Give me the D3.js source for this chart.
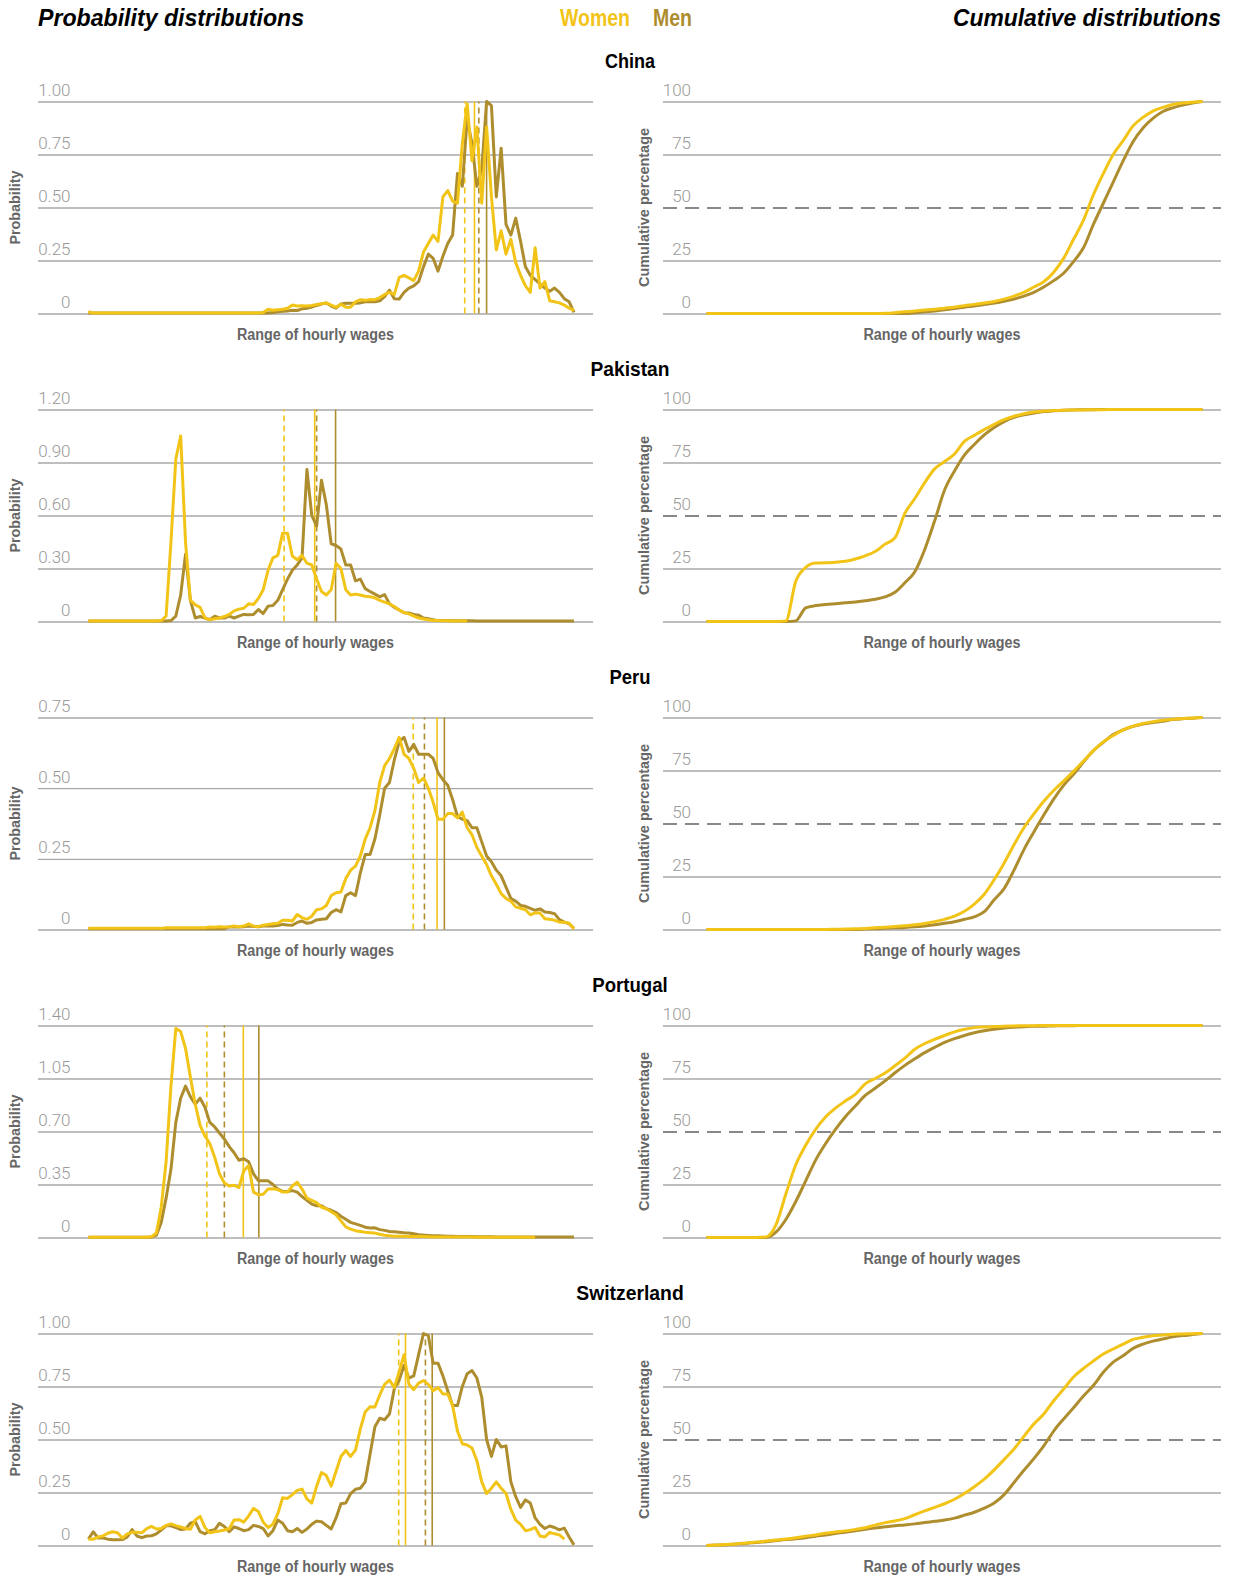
<!DOCTYPE html>
<html><head><meta charset="utf-8">
<script src="https://cdn.jsdelivr.net/npm/d3@7"></script>
<style>
body{margin:0;background:#fff;}
svg{display:block;font-family:"Liberation Sans",Arial,"DejaVu Sans",sans-serif;}
</style></head><body>
<svg id="chart" width="1239" height="1576"></svg>
<script>
// ---------------- DATA ----------------
const countries = ["China", "Pakistan", "Peru", "Portugal", "Switzerland"];
const seriesNames = ["Women", "Men"];
const cumTicks = [0, 25, 50, 75, 100];

const chinaProbTicks = [0, 0.25, 0.5, 0.75, 1];
const pakistanProbTicks = [0, 0.3, 0.6, 0.9, 1.2];
const peruProbTicks = [0, 0.25, 0.5, 0.75];
const portugalProbTicks = [0, 0.35, 0.7, 1.05, 1.4];
const switzerlandProbTicks = [0, 0.25, 0.5, 0.75, 1];

// reference lines (bin position): women dashed, women solid, men dashed, men solid
const chinaRefLines = [77.5, 79.5, 80.4, 82.0];
const pakistanRefLines = [40.3, 46.6, 47.0, 50.9];
const peruRefLines = [66.9, 71.8, 69.2, 73.3];
const portugalRefLines = [24.4, 31.9, 28.0, 35.1];
const switzerlandRefLines = [63.9, 65.3, 69.4, 70.8];

// probability distributions (one value per wage bin, 0..100)
const chinaWomenProb = [
0.008,0.002,0.002,0.002,0.002,0.002,0.002,0.002,0.002,0.002,
0.002,0.002,0.002,0.002,0.002,0.002,0.002,0.002,0.002,0.002,
0.002,0.002,0.002,0.002,0.002,0.002,0.002,0.002,0.002,0.002,
0.002,0.002,0.002,0.002,0.002,0.002,0.005,0.02,0.015,0.018,
0.02,0.025,0.04,0.035,0.036,0.035,0.038,0.042,0.046,0.05,
0.04,0.03,0.044,0.03,0.03,0.055,0.065,0.062,0.066,0.065,
0.075,0.09,0.1,0.09,0.17,0.18,0.168,0.155,0.2,0.29,
0.33,0.37,0.34,0.55,0.58,0.53,0.52,0.8,0.99,0.72,
0.88,0.52,0.88,0.55,0.3,0.39,0.28,0.35,0.24,0.18,
0.13,0.1,0.31,0.12,0.15,0.06,0.055,0.05,0.04,0.025,
0.015];
const chinaMenProb = [
0.002,0.002,0.002,0.002,0.002,0.002,0.002,0.002,0.002,0.002,
0.002,0.002,0.002,0.002,0.002,0.002,0.002,0.002,0.002,0.002,
0.002,0.002,0.002,0.002,0.002,0.002,0.002,0.002,0.002,0.002,
0.002,0.002,0.002,0.002,0.002,0.002,0.002,0.002,0.005,0.008,
0.01,0.012,0.015,0.014,0.022,0.025,0.03,0.038,0.045,0.05,
0.035,0.025,0.045,0.048,0.048,0.048,0.05,0.055,0.055,0.055,
0.06,0.08,0.11,0.07,0.068,0.1,0.12,0.13,0.15,0.22,
0.28,0.26,0.2,0.27,0.33,0.37,0.66,0.6,0.92,0.8,
0.6,0.68,1.0,0.98,0.55,0.78,0.42,0.37,0.45,0.34,
0.22,0.18,0.16,0.14,0.12,0.105,0.12,0.1,0.07,0.055,
0.005];
const pakistanWomenProb = [
0.003,0.003,0.003,0.003,0.003,0.003,0.003,0.003,0.003,0.003,
0.003,0.003,0.003,0.003,0.003,0.005,0.03,0.45,0.92,1.05,
0.45,0.12,0.095,0.08,0.02,0.01,0.015,0.02,0.028,0.04,
0.06,0.07,0.075,0.1,0.096,0.13,0.18,0.29,0.36,0.374,
0.5,0.5,0.37,0.35,0.374,0.33,0.32,0.24,0.17,0.15,
0.18,0.33,0.3,0.18,0.15,0.155,0.15,0.143,0.14,0.134,
0.12,0.11,0.1,0.085,0.065,0.05,0.043,0.03,0.02,0.014,
0.01,0.006,0.005,0.004,0.004,0.003,0.003,0.003,0.003];
const pakistanMenProb = [
0.003,0.003,0.003,0.003,0.003,0.003,0.003,0.003,0.003,0.003,
0.003,0.003,0.003,0.003,0.003,0.003,0.003,0.005,0.03,0.15,
0.38,0.12,0.02,0.028,0.02,0.01,0.03,0.02,0.02,0.03,
0.02,0.03,0.04,0.038,0.04,0.068,0.045,0.087,0.09,0.12,
0.18,0.24,0.29,0.32,0.36,0.86,0.6,0.54,0.8,0.66,
0.44,0.43,0.41,0.32,0.32,0.23,0.24,0.186,0.17,0.155,
0.14,0.152,0.1,0.08,0.065,0.05,0.048,0.04,0.036,0.02,
0.015,0.01,0.005,0.005,0.005,0.004,0.004,0.004,0.004,0.004,
0.003,0.003,0.003,0.003,0.003,0.003,0.003,0.003,0.003,0.003,
0.003,0.003,0.003,0.003,0.003,0.003,0.003,0.003,0.003,0.003,
0.003];
const peruWomenProb = [
0.004,0.004,0.004,0.004,0.004,0.004,0.004,0.004,0.004,0.004,
0.004,0.004,0.004,0.004,0.004,0.004,0.006,0.006,0.006,0.006,
0.006,0.006,0.006,0.006,0.006,0.009,0.008,0.01,0.009,0.01,
0.012,0.01,0.012,0.02,0.012,0.01,0.015,0.018,0.02,0.022,
0.033,0.033,0.03,0.053,0.042,0.036,0.047,0.07,0.073,0.085,
0.12,0.13,0.133,0.18,0.21,0.224,0.26,0.32,0.36,0.42,
0.52,0.58,0.605,0.64,0.68,0.62,0.605,0.57,0.52,0.536,
0.5,0.45,0.39,0.39,0.41,0.41,0.395,0.415,0.36,0.335,
0.29,0.26,0.23,0.19,0.16,0.127,0.11,0.1,0.08,0.075,
0.07,0.052,0.059,0.058,0.038,0.036,0.033,0.026,0.026,0.022,
0.002];
const peruMenProb = [
0.003,0.003,0.003,0.003,0.003,0.003,0.003,0.003,0.003,0.003,
0.003,0.003,0.003,0.003,0.003,0.003,0.003,0.003,0.003,0.003,
0.003,0.003,0.003,0.003,0.003,0.003,0.003,0.003,0.003,0.009,
0.01,0.009,0.01,0.012,0.011,0.01,0.012,0.012,0.012,0.014,
0.018,0.016,0.015,0.025,0.03,0.022,0.025,0.034,0.036,0.038,
0.06,0.07,0.062,0.12,0.13,0.12,0.2,0.265,0.265,0.32,
0.406,0.5,0.52,0.6,0.665,0.68,0.63,0.655,0.62,0.62,
0.62,0.605,0.555,0.53,0.51,0.46,0.4,0.39,0.385,0.36,
0.36,0.31,0.26,0.24,0.21,0.19,0.15,0.11,0.1,0.085,
0.082,0.075,0.068,0.073,0.062,0.06,0.056,0.035,0.026,0.02,
0.004];
const portugalWomenProb = [
0.002,0.002,0.002,0.002,0.002,0.002,0.002,0.002,0.002,0.002,
0.002,0.002,0.002,0.005,0.03,0.2,0.5,1.0,1.38,1.36,
1.25,1.06,0.88,0.74,0.67,0.62,0.53,0.42,0.36,0.34,
0.345,0.33,0.44,0.475,0.3,0.282,0.286,0.32,0.322,0.316,
0.3,0.3,0.34,0.365,0.32,0.26,0.245,0.23,0.2,0.19,
0.17,0.15,0.11,0.07,0.055,0.045,0.04,0.035,0.032,0.029,
0.022,0.015,0.012,0.009,0.008,0.008,0.007,0.007,0.006,0.006,
0.005,0.004,0.004,0.004,0.003,0.003,0.003,0.003,0.003,0.003,
0.002,0.002,0.002,0.002,0.002,0.002,0.002,0.002,0.002,0.002,
0.002,0.002,0.002];
const portugalMenProb = [
0.002,0.002,0.002,0.002,0.002,0.002,0.002,0.002,0.002,0.002,
0.002,0.002,0.002,0.002,0.015,0.1,0.26,0.45,0.76,0.92,
1.0,0.93,0.88,0.92,0.86,0.76,0.73,0.69,0.65,0.6,
0.56,0.51,0.52,0.5,0.42,0.375,0.374,0.374,0.35,0.32,
0.304,0.304,0.31,0.3,0.27,0.245,0.22,0.21,0.21,0.19,
0.18,0.165,0.14,0.12,0.1,0.09,0.08,0.068,0.063,0.064,
0.052,0.047,0.04,0.038,0.035,0.032,0.03,0.025,0.019,0.016,
0.014,0.012,0.011,0.01,0.009,0.008,0.007,0.007,0.006,0.006,
0.005,0.005,0.005,0.005,0.004,0.004,0.004,0.004,0.004,0.004,
0.003,0.003,0.003,0.003,0.003,0.003,0.003,0.003,0.003,0.003,
0.003];
const switzerlandWomenProb = [
0.03,0.03,0.04,0.045,0.058,0.065,0.06,0.035,0.055,0.062,
0.062,0.06,0.08,0.09,0.078,0.08,0.095,0.102,0.094,0.087,
0.08,0.077,0.12,0.137,0.085,0.06,0.065,0.068,0.073,0.079,
0.12,0.122,0.11,0.14,0.175,0.16,0.11,0.085,0.1,0.15,
0.225,0.222,0.24,0.26,0.266,0.22,0.2,0.28,0.344,0.33,
0.28,0.35,0.42,0.448,0.42,0.45,0.55,0.63,0.655,0.653,
0.71,0.76,0.78,0.745,0.82,0.9,0.76,0.735,0.766,0.778,
0.76,0.73,0.745,0.715,0.715,0.66,0.54,0.48,0.474,0.46,
0.4,0.3,0.245,0.27,0.3,0.27,0.245,0.17,0.12,0.1,
0.07,0.075,0.085,0.045,0.04,0.062,0.055,0.05,0.03];
const switzerlandMenProb = [
0.03,0.065,0.035,0.035,0.03,0.027,0.027,0.028,0.04,0.075,
0.045,0.037,0.045,0.046,0.055,0.073,0.093,0.093,0.085,0.075,
0.078,0.105,0.113,0.065,0.055,0.07,0.074,0.105,0.09,0.065,
0.088,0.08,0.07,0.075,0.095,0.09,0.08,0.045,0.07,0.12,
0.105,0.07,0.065,0.08,0.062,0.078,0.1,0.115,0.112,0.095,
0.078,0.13,0.197,0.2,0.245,0.265,0.27,0.3,0.43,0.56,
0.6,0.593,0.62,0.74,0.78,0.85,0.79,0.8,0.9,1.0,
0.99,0.86,0.86,0.8,0.73,0.66,0.66,0.75,0.81,0.825,
0.79,0.7,0.5,0.42,0.5,0.465,0.47,0.3,0.23,0.18,
0.215,0.2,0.13,0.1,0.08,0.092,0.085,0.074,0.082,0.04,
0.003];

// cumulative distributions (%), every second wage bin 0,2,...,100
const chinaWomenCum = [
0,0,0,0,0,0,0,0,0,0,
0,0,0,0,0,0,0,0,0.1,0.4,
0.8,1.2,1.6,2.0,2.5,3.0,3.7,4.3,5.0,5.7,
6.8,8.2,10,12.5,15,19.5,26,35,44,56,
66,75,81.5,88.5,92.5,95.5,97.2,98.6,99.3,99.7,
100];
const chinaMenCum = [
0,0,0,0,0,0,0,0,0,0,
0,0,0,0,0,0,0,0,0,0,
0,0.4,0.8,1.2,1.8,2.3,3.0,3.5,4.2,4.9,
5.8,6.8,8.2,10,12.5,15.5,19,24.5,31,42,
52,62,72,81,87.5,92,95.3,97,98.3,99.3,
100];
const pakistanWomenCum = [
0,0,0,0,0,0,0,0,0.3,19,
25.5,27.6,27.7,28,28.4,29.5,31,33,36.5,39.5,
51,58,65.5,72,75.5,79,85,87.8,90.5,93,
95.2,96.8,98,98.8,99.3,99.5,99.7,99.8,99.8,99.9,
99.9,100,100,100,100,100,100,100,100,100,
100];
const pakistanMenCum = [
0,0,0,0,0,0,0,0,0,0.3,
6.4,7.5,8,8.4,8.8,9.2,9.8,10.5,11.6,13.8,
18.3,23.5,34,47.5,62,71,78.5,83.5,88,91.5,
94.3,96.3,97.5,98.3,99,99.4,99.7,99.8,99.9,99.9,
100,100,100,100,100,100,100,100,100,100,
100];
const peruWomenCum = [
0,0,0,0,0,0,0,0,0,0,
0,0,0,0.1,0.2,0.3,0.5,0.8,1.1,1.4,
1.8,2.2,2.8,3.7,4.8,6.3,8.6,12,16.6,23.5,
31.3,40,48,54.5,60.5,65.6,70,74.6,79.5,84.4,
88.5,91.5,94.2,95.9,97.2,98,98.7,99.2,99.5,99.8,
100];
const peruMenCum = [
0,0,0,0,0,0,0,0,0,0,
0,0,0,0,0,0,0.2,0.4,0.6,0.8,
1.0,1.3,1.7,2.2,2.9,3.7,4.8,6.0,8.4,14,
19.3,28,37.7,46,54,61.5,68,73.2,79,84.3,
88.3,92,94.1,95.8,96.9,97.6,98.2,99,99.4,99.7,
100];
const portugalWomenCum = [
0,0,0,0,0,0,0.3,6,20.5,34.3,
43.5,51,56.8,61,64.4,67.5,72.5,75,77.6,81,
84.6,88.8,91.5,93.5,95.3,97,98.2,99,99.3,99.5,
99.7,99.8,99.9,99.9,100,100,100,100,100,100,
100,100,100,100,100,100,100,100,100,100,
100];
const portugalMenCum = [
0,0,0,0,0,0,0,2.5,8.5,17,
26.7,36.5,44.2,51,57,62,67,70.4,73.9,77.7,
81.2,84.3,87.2,89.7,92,93.8,95.3,96.6,97.5,98.2,
98.8,99.2,99.4,99.6,99.7,99.8,99.9,99.9,100,100,
100,100,100,100,100,100,100,100,100,100,
100];
const switzerlandWomenCum = [
0,0.2,0.5,0.75,1.2,1.6,2.1,2.6,3.1,3.7,
4.4,5,5.8,6.4,6.9,7.6,8.4,9.6,10.8,11.6,
12.7,14.5,16.3,18,19.7,21.8,24.5,27.7,31.3,35.7,
40.5,45.5,51.5,57.3,62,68.3,73.8,79.5,83.5,87,
90.3,92.7,95,97.2,98.2,98.9,99.3,99.7,99.8,99.9,
100];
const switzerlandMenCum = [
0,0.2,0.4,0.7,1.0,1.4,1.8,2.3,2.8,3.2,
3.7,4.4,5,5.7,6.3,7,7.7,8.3,8.8,9.3,
9.7,10.2,10.8,11.4,12,12.9,14.3,15.7,17.6,20,
24,29.7,35.5,41,47,54,59.7,65,70.5,75.5,
81.7,86.5,89.5,93,95,96.4,97.4,98.4,99,99.5,
100];

// -------------- assemble --------------
const panels = [
  {name: countries[0], ticks: chinaProbTicks, ref: chinaRefLines, wp: chinaWomenProb, mp: chinaMenProb, wc: chinaWomenCum, mc: chinaMenCum},
  {name: countries[1], ticks: pakistanProbTicks, ref: pakistanRefLines, wp: pakistanWomenProb, mp: pakistanMenProb, wc: pakistanWomenCum, mc: pakistanMenCum},
  {name: countries[2], ticks: peruProbTicks, ref: peruRefLines, wp: peruWomenProb, mp: peruMenProb, wc: peruWomenCum, mc: peruMenCum},
  {name: countries[3], ticks: portugalProbTicks, ref: portugalRefLines, wp: portugalWomenProb, mp: portugalMenProb, wc: portugalWomenCum, mc: portugalMenCum},
  {name: countries[4], ticks: switzerlandProbTicks, ref: switzerlandRefLines, wp: switzerlandWomenProb, mp: switzerlandMenProb, wc: switzerlandWomenCum, mc: switzerlandMenCum}
];

// -------------- drawing --------------
const WOMEN = "#F2C417", MEN = "#AE8D2F";
const GRID = "#a8a8a8", TICK = "#999999", TITLE = "#666666";
const svg = d3.select("#chart");

const L = {g0: 38, g1: 593, d0: 88.4, d1: 574, lab: 70.5, ytitle: 15};
const R = {g0: 663, g1: 1221, d0: 706.5, d1: 1202.5, lab: 691, ytitle: 644};
const rowTop = r => 101.5 + r * 308;
const plotH = 212;
// condensed look: text widths squeezed to match the narrow typeface
const titleWidth = {China: 50, Pakistan: 79, Peru: 41, Portugal: 75.5, Switzerland: 107.5};

function squeezed(sel, w) {
  return sel.attr("textLength", w).attr("lengthAdjust", "spacingAndGlyphs");
}

// header
squeezed(svg.append("text").attr("x", 38).attr("y", 26).attr("font-size", 24).attr("font-weight", "bold")
  .attr("font-style", "italic").attr("fill", "#000").text("Probability distributions"), 266);
squeezed(svg.append("text").attr("x", 953).attr("y", 26).attr("font-size", 24).attr("font-weight", "bold")
  .attr("font-style", "italic").attr("fill", "#000").text("Cumulative distributions"), 268);
squeezed(svg.append("text").attr("x", 560).attr("y", 26).attr("font-size", 23).attr("font-weight", "bold")
  .attr("fill", WOMEN).text(seriesNames[0]), 70);
squeezed(svg.append("text").attr("x", 653).attr("y", 26).attr("font-size", 23).attr("font-weight", "bold")
  .attr("fill", MEN).text(seriesNames[1]), 39);

const fmtProb = d => d === 0 ? "0" : d3.format(".2f")(d);

function drawGrid(g, P, y, ticks, fmt, dashed50) {
  const axis = d3.axisRight(y).tickValues(ticks).tickSize(P.g1 - P.g0).tickFormat(fmt);
  const ag = g.append("g").attr("transform", `translate(${P.g0},0)`).call(axis);
  ag.select(".domain").remove();
  ag.selectAll(".tick line").attr("stroke", GRID).attr("stroke-width", 1.4);
  ag.selectAll(".tick text").attr("x", P.lab - P.g0).attr("dy", -6).attr("text-anchor", "end")
    .attr("fill", TICK).attr("font-size", 17).attr("font-weight", 300)
    .attr("font-family", "Roboto, 'Liberation Sans', sans-serif");
  if (dashed50) {
    ag.selectAll(".tick").filter(d => d === 50).select("line")
      .attr("stroke", "#888").attr("stroke-width", 2).attr("stroke-dasharray", "14,8");
  }
}

function titles(g, P, top, ytext, ylen) {
  squeezed(g.append("text").attr("transform", `translate(${P.ytitle},${top + plotH / 2}) rotate(-90)`)
    .attr("text-anchor", "middle").attr("dy", "0.35em").attr("font-size", 15).attr("font-weight", "bold")
    .attr("fill", TITLE).text(ytext), ylen);
  squeezed(g.append("text").attr("x", (P.g0 + P.g1) / 2).attr("y", top + plotH + 26).attr("text-anchor", "middle")
    .attr("font-size", 16).attr("font-weight", "bold").attr("fill", TITLE).text("Range of hourly wages"), 157);
}

panels.forEach((p, r) => {
  const top = rowTop(r), bot = top + plotH;
  const g = svg.append("g");
  // country title
  squeezed(g.append("text").attr("x", 630).attr("y", top - 34).attr("text-anchor", "middle").attr("font-size", 21)
    .attr("font-weight", "bold").attr("fill", "#000").text(p.name), titleWidth[p.name]);

  // ---- probability panel ----
  const maxT = p.ticks[p.ticks.length - 1];
  const yP = d3.scaleLinear().domain([0, maxT]).range([bot, top]);
  const xP = d3.scaleLinear().domain([0, 100]).range([L.d0, L.d1]);
  drawGrid(g, L, yP, p.ticks, fmtProb, false);
  titles(g, L, top, "Probability", 74);

  const refStyle = [[WOMEN, "6,4"], [WOMEN, null], [MEN, "6,4"], [MEN, null]];
  p.ref.forEach((v, k) => {
    g.append("line").attr("x1", xP(v)).attr("x2", xP(v)).attr("y1", yP(0)).attr("y2", yP(maxT))
      .attr("stroke", refStyle[k][0]).attr("stroke-width", 1.6)
      .attr("stroke-dasharray", refStyle[k][1]);
  });
  const lineP = d3.line().x((d, i) => xP(i)).y(d => yP(d));
  g.append("path").datum(p.mp).attr("d", lineP).attr("fill", "none").attr("stroke", MEN)
    .attr("stroke-width", 3).attr("stroke-linejoin", "round");
  g.append("path").datum(p.wp).attr("d", lineP).attr("fill", "none").attr("stroke", WOMEN)
    .attr("stroke-width", 3).attr("stroke-linejoin", "round");

  // ---- cumulative panel ----
  const yC = d3.scaleLinear().domain([0, 100]).range([bot, top]);
  const xC = d3.scaleLinear().domain([0, 100]).range([R.d0, R.d1]);
  drawGrid(g, R, yC, cumTicks, d => String(d), true);
  titles(g, R, top, "Cumulative percentage", 159);
  const lineC = d3.line().x((d, i) => xC(i * 2)).y(d => yC(d)).curve(d3.curveMonotoneX);
  g.append("path").datum(p.mc).attr("d", lineC).attr("fill", "none").attr("stroke", MEN)
    .attr("stroke-width", 3).attr("stroke-linejoin", "round");
  g.append("path").datum(p.wc).attr("d", lineC).attr("fill", "none").attr("stroke", WOMEN)
    .attr("stroke-width", 3).attr("stroke-linejoin", "round");
});
</script>
</body></html>
